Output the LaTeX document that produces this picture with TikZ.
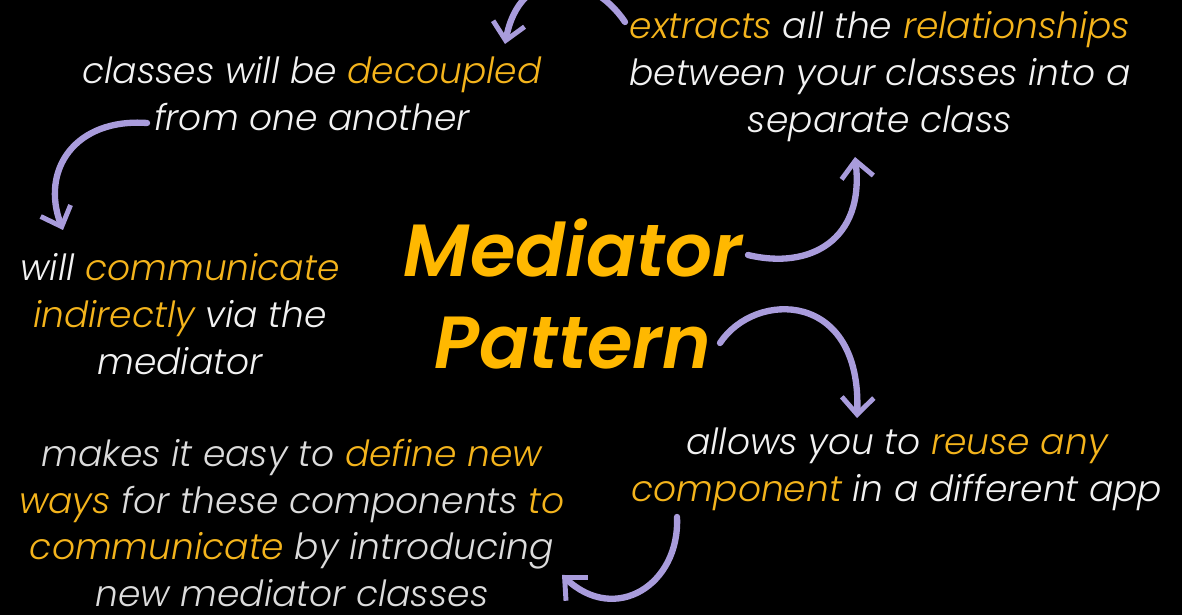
\documentclass[tikz,border=0pt]{standalone}
\usepackage{fontspec}
\setmainfont{Poppins}[ItalicFont={Poppins Light Italic}, BoldItalicFont={Poppins SemiBold Italic}]
\usepackage{xcolor}
\usepackage{tikz}
\usetikzlibrary{arrows.meta, positioning}
\definecolor{titlecolor}{HTML}{FFB800}
\definecolor{hlcolor}{HTML}{F4B41C}
\definecolor{textcolor}{HTML}{F2F2F2}
\definecolor{softcolor}{HTML}{DCDCDC}
\definecolor{brushcolor}{HTML}{A99CDC}
\newcommand{\hlword}[1]{\textcolor{hlcolor}{#1}}

\begin{document}
\begin{tikzpicture}[
    note/.style={align=center, text=textcolor, font=\fontsize{20.5}{26.7}\selectfont\itshape, inner sep=0pt},
    heading/.style={align=center, text=titlecolor, font=\fontsize{42}{52}\selectfont\bfseries\itshape, inner sep=0pt},
    brush/.style={-{Straight Barb[length=3.4mm, width=6.4mm, line width=2.8pt]}, line width=3.6pt, draw=brushcolor, line cap=round}
]
\fill[black] (0,0) rectangle (23.64,12.3);
\clip (0,0) rectangle (23.64,12.3);
\node[heading] (title) at (11.46,6.42) {Mediator\\Pattern};
\node[note] (decoupled) at (6.24,10.42) {classes will be \hlword{decoupled}\\from one another};
\node[note] (extracts) at (17.6,10.76) {\hlword{extracts} all the \hlword{relationships}\\between your classes into a\\separate class};
\node[note] (indirect) at (3.6,6.02) {will \hlword{communicate}\\\hlword{indirectly} via the\\mediator};
\node[note] (reuse) at (17.94,2.92) {allows you to \hlword{reuse any}\\\hlword{component} in a different app};
\node[note, text=softcolor] (newways) at (5.84,1.84) {makes it easy to \hlword{define new}\\\hlword{ways} for these components \hlword{to}\\\hlword{communicate} by introducing\\new mediator classes};
\coordinate (t1) at (14.96,7.2);
\coordinate (h1) at (17.1,9.16);
\coordinate (t2) at (12.5,11.86);
\coordinate (h2) at (10.1,11.42);
\coordinate (t3) at (2.94,9.84);
\coordinate (h3) at (1.26,7.7);
\coordinate (t4) at (14.4,5.44);
\coordinate (h4) at (17.14,3.94);
\coordinate (t5) at (13.54,1.96);
\coordinate (h5) at (11.24,0.8);
\draw[brush] (t1) .. controls (16.2,6.9) and (17.3,7.5) .. (h1);
\draw[brush] (t2) .. controls (11.8,12.9) and (10.4,13.0) .. (h2);
\draw[brush] (t3) .. controls (1.5,9.94) and (0.8,8.9) .. (h3);
\draw[brush] (t4) .. controls (15.1,6.5) and (17.24,6.5) .. (h4);
\draw[brush] (t5) .. controls (13.6,0.6) and (12.3,-0.2) .. (h5);
\end{tikzpicture}
\end{document}
